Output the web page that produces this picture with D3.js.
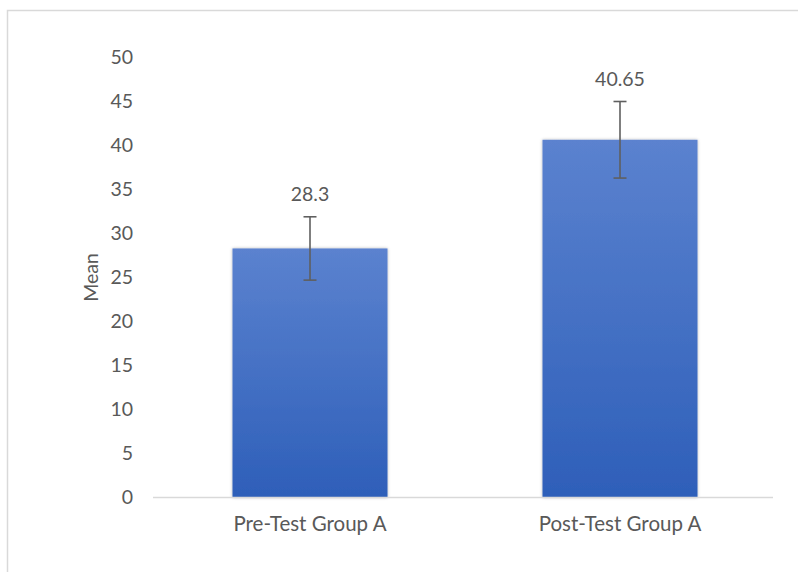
<!DOCTYPE html>
<html><head><meta charset="utf-8">
<script src="https://cdn.jsdelivr.net/npm/d3@7"></script>
<style>
html,body{margin:0;padding:0;background:#fff;}
svg{display:block;}
text{font-family:Lato,"Open Sans","Liberation Sans",sans-serif;fill:#595959;}
</style></head>
<body>
<script>
const categories = ["Pre-Test Group A", "Post-Test Group A"];
const means = [28.3, 40.65];
const errors = [3.6, 4.35];
const labels = ["28.3", "40.65"];
const yTicks = [0, 5, 10, 15, 20, 25, 30, 35, 40, 45, 50];
const yTitle = "Mean";

const W = 798, H = 572;
const FS = 19.5;
const svg = d3.select("body").append("svg").attr("width", W).attr("height", H);
const defs = svg.append("defs");
const grad = defs.append("linearGradient").attr("id", "barGrad").attr("x1", 0).attr("y1", 0).attr("x2", 0).attr("y2", 1);
grad.append("stop").attr("offset", "0%").attr("stop-color", "#5b82cf");
grad.append("stop").attr("offset", "100%").attr("stop-color", "#2e5fb9");
const filt = defs.append("filter").attr("id", "shadow").attr("x", "-10%").attr("y", "-10%").attr("width", "120%").attr("height", "120%");
filt.append("feDropShadow").attr("dx", 0).attr("dy", 0).attr("stdDeviation", 1.5).attr("flood-color", "#000").attr("flood-opacity", 0.3);

// chart border
svg.append("rect").attr("x", 7.5).attr("y", 10.5).attr("width", 820).attr("height", 600)
  .attr("fill", "none").attr("stroke", "#d9d9d9").attr("stroke-width", 1.5);

const x = d3.scaleBand().domain(categories).range([155, 775]).paddingInner(0.5).paddingOuter(0.25);
const y = d3.scaleLinear().domain([0, 50]).range([497.5, 57.5]);

// y tick labels
const yAxis = d3.axisLeft(y).tickValues(yTicks).tickSize(0).tickPadding(0);
const gy = svg.append("g").attr("transform", "translate(133,0)").call(yAxis);
gy.select(".domain").remove();
gy.attr("font-family", null).attr("font-size", null);
gy.selectAll("text").attr("font-size", FS).attr("fill", "#595959");

// bars
svg.append("g").selectAll("rect").data(categories).join("rect")
  .attr("x", d => x(d)).attr("width", x.bandwidth())
  .attr("y", (d, i) => y(means[i])).attr("height", (d, i) => y(0) - y(means[i]))
  .attr("fill", "url(#barGrad)").attr("filter", "url(#shadow)");

// baseline
svg.append("line").attr("x1", 153).attr("x2", 773).attr("y1", y(0)).attr("y2", y(0))
  .attr("stroke", "#d9d9d9").attr("stroke-width", 1.5);

// error bars
const eb = svg.append("g").attr("stroke", "#5f5f5f").attr("stroke-width", 1.6);
categories.forEach((c, i) => {
  const cx = x(c) + x.bandwidth() / 2;
  const t = y(means[i] + errors[i]), b = y(means[i] - errors[i]);
  eb.append("line").attr("x1", cx).attr("x2", cx).attr("y1", t).attr("y2", b);
  eb.append("line").attr("x1", cx - 6.5).attr("x2", cx + 6.5).attr("y1", t).attr("y2", t);
  eb.append("line").attr("x1", cx - 6.5).attr("x2", cx + 6.5).attr("y1", b).attr("y2", b);
});

// data labels
svg.append("g").selectAll("text").data(categories).join("text")
  .attr("x", d => x(d) + x.bandwidth() / 2)
  .attr("y", (d, i) => y(means[i] + errors[i]) - 16)
  .attr("text-anchor", "middle").attr("font-size", FS)
  .text((d, i) => labels[i]);

// x axis labels
const xAxis = d3.axisBottom(x).tickSize(0).tickPadding(0);
const gx = svg.append("g").attr("transform", "translate(0,531)").call(xAxis);
gx.select(".domain").remove();
gx.attr("font-family", null).attr("font-size", null);
gx.selectAll("text").attr("font-size", 20.5).attr("fill", "#595959").attr("dy", 0);

// y title
svg.append("text").attr("transform", "translate(98," + ((y(0) + y(50)) / 2) + ") rotate(-90)")
  .attr("text-anchor", "middle").attr("font-size", FS).text(yTitle);
</script>
</body></html>
